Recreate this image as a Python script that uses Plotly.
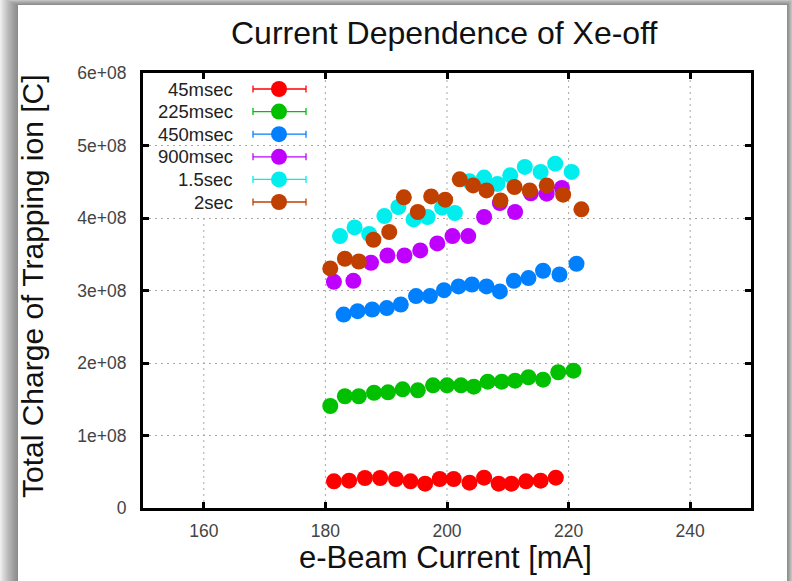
import plotly.graph_objects as go

# ---------------- data ----------------
series_names = ["45msec", "225msec", "450msec", "900msec", "1.5sec", "2sec"]
series_colors = ["#ff0000", "#00c000", "#0080ff", "#c000ff", "#00eeee", "#c04000"]

x_45ms = [181.4, 183.9, 186.5, 189.0, 191.6, 194.0, 196.4, 198.8, 201.1, 203.7,
          206.1, 208.5, 210.6, 213.0, 215.4, 217.9]
y_45ms = [0.368e8, 0.377e8, 0.414e8, 0.414e8, 0.400e8, 0.368e8, 0.335e8, 0.400e8,
          0.400e8, 0.349e8, 0.418e8, 0.335e8, 0.335e8, 0.368e8, 0.377e8, 0.418e8]

x_225ms = [180.8, 183.2, 185.5, 188.0, 190.3, 192.7, 195.2, 197.7, 200.0, 202.3,
           204.4, 206.7, 209.0, 211.2, 213.4, 215.8, 218.3, 220.8]
y_225ms = [1.407e8, 1.541e8, 1.541e8, 1.590e8, 1.596e8, 1.637e8, 1.623e8, 1.692e8,
           1.692e8, 1.692e8, 1.673e8, 1.742e8, 1.742e8, 1.756e8, 1.803e8, 1.770e8,
           1.872e8, 1.894e8]

x_450ms = [183.0, 185.3, 187.7, 190.1, 192.4, 194.9, 197.2, 199.5, 201.9, 204.1,
           206.5, 208.7, 211.0, 213.4, 215.8, 218.5, 221.3]
y_450ms = [2.668e8, 2.715e8, 2.738e8, 2.757e8, 2.807e8, 2.923e8, 2.923e8, 3.005e8,
           3.056e8, 3.083e8, 3.056e8, 2.987e8, 3.134e8, 3.171e8, 3.272e8, 3.221e8,
           3.369e8]

x_900ms = [181.4, 184.6, 187.5, 190.2, 193.0, 195.6, 198.4, 200.9, 203.5, 206.1,
           208.7, 211.2, 213.8, 216.4, 218.9]
y_900ms = [3.120e8, 3.134e8, 3.383e8, 3.483e8, 3.483e8, 3.553e8, 3.649e8, 3.751e8,
           3.751e8, 4.014e8, 4.207e8, 4.083e8, 4.340e8, 4.336e8, 4.414e8]

x_1500ms = [182.4, 184.8, 187.2, 189.7, 192.0, 194.5, 196.8, 199.2, 201.3, 203.7,
            206.1, 208.3, 210.4, 212.8, 215.4, 217.8, 220.5]
y_1500ms = [3.751e8, 3.870e8, 3.779e8, 4.027e8, 4.152e8, 3.980e8, 4.014e8, 4.142e8,
            4.069e8, 4.506e8, 4.557e8, 4.470e8, 4.588e8, 4.704e8, 4.635e8, 4.750e8,
            4.635e8]

x_2s = [180.8, 183.2, 185.5, 187.9, 190.5, 192.9, 195.2, 197.4, 199.7, 202.1,
        204.3, 206.5, 208.8, 211.1, 213.6, 216.4, 219.1, 222.1]
y_2s = [3.304e8, 3.438e8, 3.400e8, 3.700e8, 3.807e8, 4.285e8, 4.083e8, 4.298e8,
        4.253e8, 4.533e8, 4.450e8, 4.381e8, 4.243e8, 4.428e8, 4.381e8, 4.450e8,
        4.322e8, 4.119e8]

x_tickvals = [160, 180, 200, 220, 240]
y_tickvals = [0, 1e8, 2e8, 3e8, 4e8, 5e8, 6e8]
y_ticktext = ["0", "1e+08", "2e+08", "3e+08", "4e+08", "5e+08", "6e+08"]

title_text = "Current Dependence of Xe-off"
x_title = "e-Beam Current [mA]"
y_title = "Total Charge of Trapping ion [C]"

xs = [x_45ms, x_225ms, x_450ms, x_900ms, x_1500ms, x_2s]
ys = [y_45ms, y_225ms, y_450ms, y_900ms, y_1500ms, y_2s]

# ---------------- layout geometry (pixels) ----------------
W, H = 792, 581
PL, PR, PT, PB = 143, 751, 73, 508
FONT = "Liberation Sans, Arial, Helvetica, sans-serif"
GRID_COLOR = "#a8a8a8"
GRID_DASH = "2px,4px"
KEY_BOTTOM_PX = 218   # vertical grid lines stop below the key area


def px(xp):
    return (xp - PL) / (PR - PL)


def py(yp):
    return (PB - yp) / (PB - PT)


fig = go.Figure()

for name, color, xv, yv in zip(series_names, series_colors, xs, ys):
    fig.add_trace(go.Scatter(
        x=xv, y=yv, mode="markers", name=name,
        marker=dict(color=color, size=16, line=dict(width=0)),
        showlegend=False, hoverinfo="x+y+name",
    ))

shapes = []

# background card with soft shadow
CARD_L, CARD_R, CARD_T, CARD_B = 18, 787, 5, 600
for k in range(16, 0, -1):
    shapes.append(dict(
        type="rect", xref="paper", yref="paper", layer="below",
        x0=px(CARD_L - k * 1.1), x1=px(CARD_R + k * 0.45), y0=py(CARD_B + k),
        y1=py(CARD_T - k * 0.45),
        fillcolor="rgba(0,0,0,0.032)", line=dict(width=0),
    ))
shapes.append(dict(
    type="rect", xref="paper", yref="paper", layer="below",
    x0=px(CARD_L), x1=px(CARD_R), y0=py(CARD_B), y1=py(CARD_T),
    fillcolor="white", line=dict(width=0),
))

# vertical grid lines (the one under the key is interrupted)
key_x_right = 315
for tv in x_tickvals:
    top = 1.0
    # grid lines whose position falls inside the key area stop below it
    if (tv - 150) / 100 < px(key_x_right):
        top = py(KEY_BOTTOM_PX)
    shapes.append(dict(
        type="line", xref="x", yref="paper", layer="below",
        x0=tv, x1=tv, y0=0, y1=top,
        line=dict(color=GRID_COLOR, width=1, dash=GRID_DASH),
    ))

# custom key (gnuplot style: label, errorbar sample, point)
annotations = []
KEY_TEXT_R = 235
KEY_L, KEY_R, KEY_P = 253, 306, 279
KEY_Y0, KEY_DY = 89, 22.6
for i, (name, color) in enumerate(zip(series_names, series_colors)):
    yy = py(KEY_Y0 + i * KEY_DY)
    annotations.append(dict(
        x=px(KEY_TEXT_R), y=yy, xref="paper", yref="paper", text=name,
        showarrow=False, xanchor="right", yanchor="middle",
        font=dict(family=FONT, size=18.5, color="#222222"),
    ))
    shapes.append(dict(type="line", xref="paper", yref="paper",
                       x0=px(KEY_L), x1=px(KEY_R), y0=yy, y1=yy,
                       line=dict(color=color, width=1.3)))
    for xe in (KEY_L, KEY_R):
        shapes.append(dict(type="line", xref="paper", yref="paper",
                           ysizemode="pixel", yanchor=yy, y0=-3.5, y1=3.5,
                           x0=px(xe), x1=px(xe),
                           line=dict(color=color, width=1.3)))
    shapes.append(dict(type="circle", xref="paper", yref="paper",
                       xsizemode="pixel", ysizemode="pixel",
                       xanchor=px(KEY_P), yanchor=yy,
                       x0=-8, x1=8, y0=-8, y1=8,
                       fillcolor=color, line=dict(width=0)))

# titles
annotations.append(dict(
    x=px(444), y=py(33), xref="paper", yref="paper", text=title_text,
    showarrow=False, xanchor="center", yanchor="middle",
    font=dict(family=FONT, size=32, color="#111111"),
))
annotations.append(dict(
    x=px(445), y=py(557), xref="paper", yref="paper", text=x_title,
    showarrow=False, xanchor="center", yanchor="middle",
    font=dict(family=FONT, size=31, color="#111111"),
))
annotations.append(dict(
    x=px(32), y=py(286), xref="paper", yref="paper", text=y_title,
    showarrow=False, xanchor="center", yanchor="middle", textangle=-90,
    font=dict(family=FONT, size=30, color="#111111"),
))

axis_common = dict(
    showline=True, linecolor="black", linewidth=3, mirror="allticks",
    ticks="inside", ticklen=6, tickwidth=3, tickcolor="black",
    gridcolor=GRID_COLOR, gridwidth=1, griddash=GRID_DASH,
    zeroline=False,
    tickfont=dict(family=FONT, size=17.5, color="#444444"),
)

fig.update_layout(
    width=W, height=H, autosize=False,
    margin=dict(l=PL, r=W - PR, t=PT, b=H - PB, pad=0),
    paper_bgcolor="#f2f2f2", plot_bgcolor="rgba(0,0,0,0)",
    showlegend=False,
    shapes=shapes, annotations=annotations,
    xaxis=dict(range=[150, 250], tickvals=x_tickvals, ticklabelstandoff=5,
               showgrid=False, **axis_common),
    yaxis=dict(range=[0, 6e8], tickvals=y_tickvals, ticktext=y_ticktext,
               ticklabelstandoff=10, showgrid=True, **axis_common),
)

fig.write_html("out.html", config={"displayModeBar": False},
               post_script="document.body.style.margin='0';")
